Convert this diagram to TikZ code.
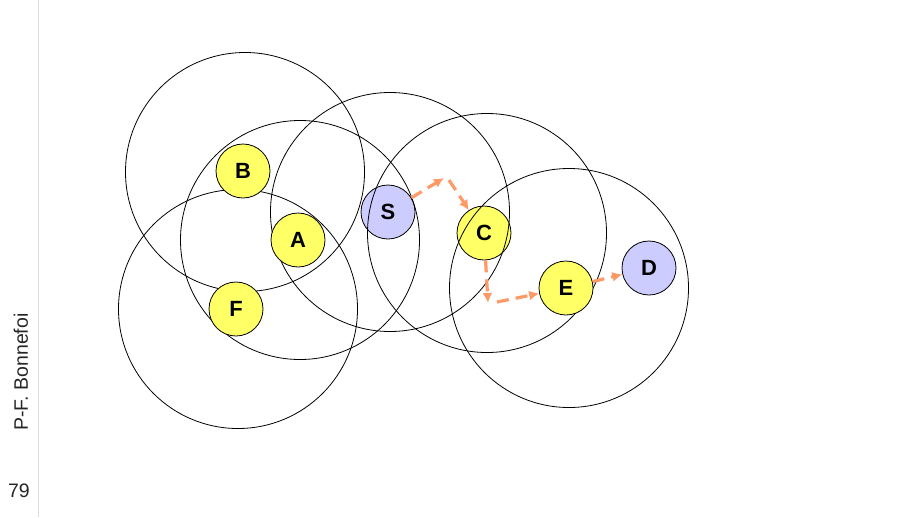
\documentclass[tikz,border=0pt]{standalone}
\usepackage{fontspec}
\setmainfont{Liberation Sans}
\usetikzlibrary{arrows.meta}
\definecolor{nodeyellow}{HTML}{FFFF66}
\definecolor{nodeblue}{HTML}{CCCCFF}
\definecolor{arroworange}{HTML}{FF9966}
\definecolor{sidegray}{HTML}{DCDCDC}
\tikzset{
  radiocircle/.style={draw=black, line width=0.8pt, circle, minimum size=239pt, inner sep=0pt},
  hostY/.style={draw=black, line width=0.8pt, circle, fill=nodeyellow, minimum size=54pt, inner sep=0pt, font=\fontsize{22}{22}\selectfont\bfseries},
  hostB/.style={hostY, fill=nodeblue},
  routeline/.style={draw=arroworange, line width=3.2pt, dash pattern=on 12pt off 7pt, -{Latex[length=10pt,width=10pt]}},
  sidetext/.style={font=\fontsize{19.5}{19.5}\selectfont, text=black!85}
}
\begin{document}
\begin{tikzpicture}[x=1pt,y=-1pt]
\useasboundingbox (0,0) rectangle (897,517);
\draw[sidegray, line width=1.6pt] (38.5,0) -- (38.5,517);
\node[sidetext, rotate=90] (author) at (21,372) {P-F. Bonnefoi};
\node[sidetext] (page) at (19,491) {79};
% nodes under the range circles
\node[hostB] (S) at (388,212) {S};
\node[hostY] (C) at (484,233) {C};
% range circles
\node[radiocircle] (rB) at (245,172) {};
\node[radiocircle] (rA) at (300,240) {};
\node[radiocircle] (rF) at (238,309) {};
\node[radiocircle] (rS) at (390,212) {};
\node[radiocircle] (rC) at (487,233) {};
\node[radiocircle] (rE) at (569,288) {};
% nodes above the range circles
\node[hostY] (B) at (243,171) {B};
\node[hostY] (A) at (298,240) {A};
\node[hostY] (F) at (236,309) {F};
\node[hostY] (E) at (566,288) {E};
\node[hostB] (D) at (649,268) {D};
% route
\coordinate (p1) at (444,178);
\coordinate (p1b) at (449,180);
\coordinate (p2) at (488,303);
\coordinate (p2b) at (497,302);
\draw[routeline] (S) -- (p1);
\draw[routeline] (p1b) -- (C);
\draw[routeline] (C) -- (p2);
\draw[routeline] (p2b) -- (E);
\draw[routeline] (E) -- (D);
\end{tikzpicture}
\end{document}
